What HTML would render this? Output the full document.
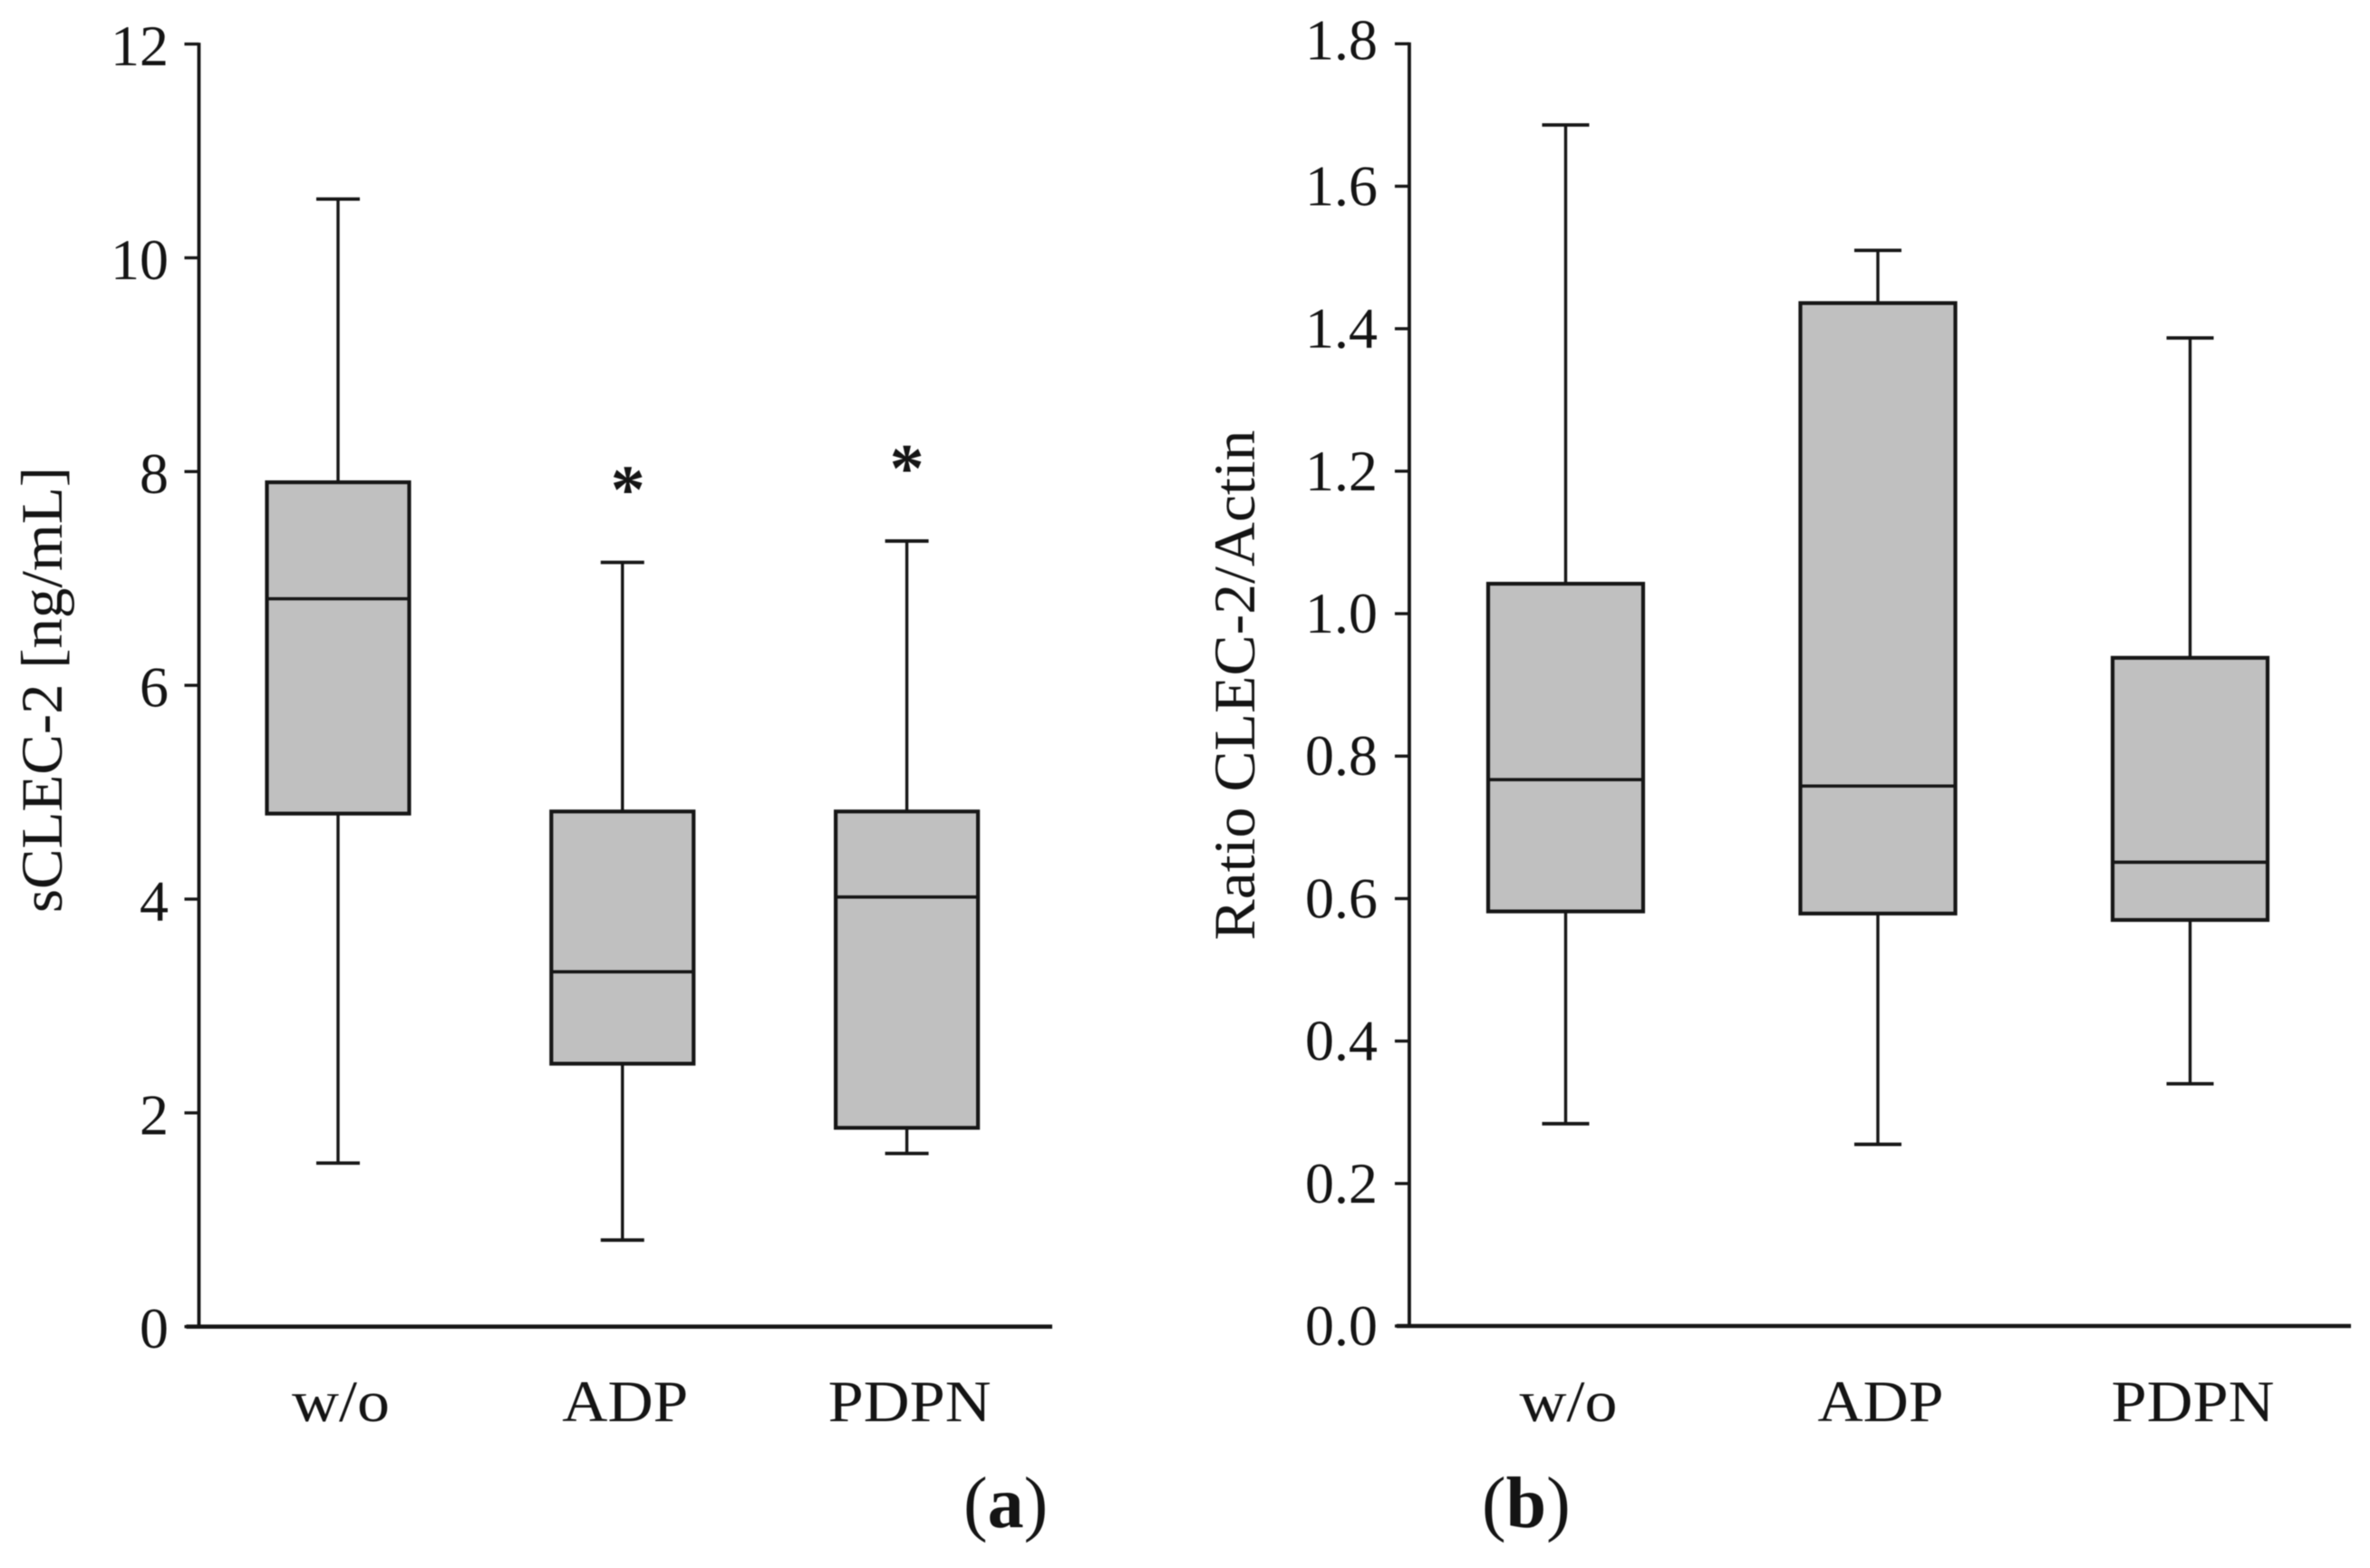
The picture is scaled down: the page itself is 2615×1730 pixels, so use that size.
<!DOCTYPE html>
<html lang="en">
<head>
<meta charset="utf-8">
<title>sCLEC-2 and CLEC-2/Actin box plots</title>
<style>
html,body{margin:0;padding:0;background:#fff;}
body{width:2615px;height:1730px;overflow:hidden;}
svg{display:block;filter:blur(0.6px);}
text{font-family:"Liberation Serif","DejaVu Serif",serif;fill:#141414;}
</style>
</head>
<body>
<svg id="figure" xmlns="http://www.w3.org/2000/svg" width="2615" height="1730" viewBox="0 0 2615 1730">
<rect x="0" y="0" width="2615" height="1730" fill="#ffffff"/>
</svg>
<script>
var categories = ['w/o', 'ADP', 'PDPN'];

var aTickValues = [0, 2, 4, 6, 8, 10, 12];
var aTickLabels = ['0', '2', '4', '6', '8', '10', '12'];
var aWhiskerHigh = [10.55, 7.15, 7.35];
var aQ3 = [7.90, 4.82, 4.82];
var aMedian = [6.81, 3.32, 4.02];
var aQ1 = [4.80, 2.46, 1.86];
var aWhiskerLow = [1.53, 0.81, 1.62];
var aStars = [false, true, true];

var bTickValues = [0, 0.2, 0.4, 0.6, 0.8, 1.0, 1.2, 1.4, 1.6, 1.8];
var bTickLabels = ['0.0', '0.2', '0.4', '0.6', '0.8', '1.0', '1.2', '1.4', '1.6', '1.8'];
var bWhiskerHigh = [1.686, 1.510, 1.387];
var bQ3 = [1.042, 1.436, 0.938];
var bMedian = [0.767, 0.758, 0.651];
var bQ1 = [0.582, 0.579, 0.570];
var bWhiskerLow = [0.284, 0.255, 0.340];
var bStars = [false, false, false];

var SVGNS = 'http://www.w3.org/2000/svg';
var svg = document.getElementById('figure');
var INK = '#161616';

function mk(tag, attrs, parent) {
  var el = document.createElementNS(SVGNS, tag);
  for (var k in attrs) { el.setAttribute(k, attrs[k]); }
  parent.appendChild(el);
  return el;
}

function drawPanel(p) {
  var yTop = p.yTop, yZero = p.yZero, yMax = p.tickValues[p.tickValues.length - 1];
  function yScale(v) { return yZero - (v / yMax) * (yZero - yTop); }
  function xScale(i) { return p.firstX + i * p.stepX; }

  var g = mk('g', {}, svg);
  
  

  var yAxis = mk('line', {x1: p.axisX, x2: p.axisX, y1: yTop - 1.5, y2: yZero, stroke: INK, 'stroke-width': 3.8}, g);
  
  

  var xAxis = mk('line', {x1: p.axisX - 14, x2: p.axisEnd, y1: yZero, y2: yZero, stroke: INK, 'stroke-width': 4.6}, g);
  
  

  p.tickValues.forEach(function (v, i) {
    var tick = mk('line', {x1: p.axisX - 16, x2: p.axisX, y1: yScale(v), y2: yScale(v), stroke: INK, 'stroke-width': 3.4}, g);
    
    

    var nudge = (i === p.tickValues.length - 1) ? p.topLabelNudge : 0;
    var label = mk('text', {x: p.tickRight, y: yScale(v) + p.tickBaseline + nudge, 'text-anchor': 'end', 'font-size': 64}, g);
    
    
    label.textContent = p.tickLabels[i];
  });

  categories.forEach(function (cat, i) {
    var cx = xScale(i);
    var hw = p.boxWidth / 2;
    var capHw = p.capWidth / 2;

    var whisker = mk('line', {x1: cx, x2: cx, y1: yScale(p.high[i]), y2: yScale(p.low[i]), stroke: INK, 'stroke-width': 3.4}, g);
    
    

    var capTop = mk('line', {x1: cx - capHw, x2: cx + capHw, y1: yScale(p.high[i]), y2: yScale(p.high[i]), stroke: INK, 'stroke-width': 3.8}, g);
    
    

    var capBottom = mk('line', {x1: cx - capHw, x2: cx + capHw, y1: yScale(p.low[i]), y2: yScale(p.low[i]), stroke: INK, 'stroke-width': 3.8}, g);
    
    

    var box = mk('rect', {x: cx - hw, y: yScale(p.q3[i]), width: p.boxWidth, height: yScale(p.q1[i]) - yScale(p.q3[i]), fill: '#c0c0c0', stroke: INK, 'stroke-width': 4.2}, g);
    
    

    var median = mk('line', {x1: cx - hw, x2: cx + hw, y1: yScale(p.median[i]), y2: yScale(p.median[i]), stroke: INK, 'stroke-width': 3.6}, g);
    
    

    var catLabel = mk('text', {x: cx + p.labelShift, y: 1568, 'text-anchor': 'middle', 'font-size': 65, textLength: p.labelWidths[i], lengthAdjust: 'spacingAndGlyphs'}, g);
    
    
    catLabel.textContent = cat;

    if (p.stars[i]) {
      var star = mk('text', {x: cx + p.starDx[i], y: yScale(p.high[i]) - 55, 'text-anchor': 'middle', 'font-size': 76, 'font-weight': 'bold'}, g);
      
      
      star.textContent = '*';
    }
  });

  var title = mk('text', {transform: 'translate(' + p.titleX + ',' + p.titleMid + ') rotate(-90)', x: 0, y: 0, 'text-anchor': 'middle', 'font-size': 65, textLength: p.titleLen, lengthAdjust: 'spacingAndGlyphs'}, g);
  
  
  title.textContent = p.title;

  var tag = mk('text', {x: p.tagX, y: 1685, 'font-size': 80}, g);
  
  
  var open = mk('tspan', {}, tag);
  open.textContent = '(';
  var letter = mk('tspan', {'font-weight': 'bold'}, tag);
  letter.textContent = p.tag;
  var close = mk('tspan', {}, tag);
  close.textContent = ')';
}

drawPanel({
  name: 'panel-a', tag: 'a', tagX: 1063, title: 'sCLEC-2 [ng/mL]', titleX: 68, titleMid: 761, titleLen: 492,
  tickValues: aTickValues, tickLabels: aTickLabels,
  high: aWhiskerHigh, q3: aQ3, median: aMedian, q1: aQ1, low: aWhiskerLow, stars: aStars,
  axisX: 219.5, axisEnd: 1161, yTop: 48.6, yZero: 1463.7,
  firstX: 373, stepX: 313.8, boxWidth: 157, capWidth: 48,
  tickRight: 186, tickBaseline: 23.5, topLabelNudge: 0, labelShift: 3, labelWidths: [108, 139, 180],
  starDx: [0, 6, 0]
});

drawPanel({
  name: 'panel-b', tag: 'b', tagX: 1635, title: 'Ratio CLEC-2/Actin', titleX: 1384, titleMid: 756, titleLen: 563,
  tickValues: bTickValues, tickLabels: bTickLabels,
  high: bWhiskerHigh, q3: bQ3, median: bMedian, q1: bQ1, low: bWhiskerLow, stars: bStars,
  axisX: 1555, axisEnd: 2594, yTop: 48.3, yZero: 1463,
  firstX: 1727.5, stepX: 344.5, boxWidth: 171, capWidth: 52,
  tickRight: 1520, tickBaseline: 21, topLabelNudge: -4, labelShift: 3, labelWidths: [108, 139, 180],
  starDx: [0, 0, 0]
});
</script>
</body>
</html>
